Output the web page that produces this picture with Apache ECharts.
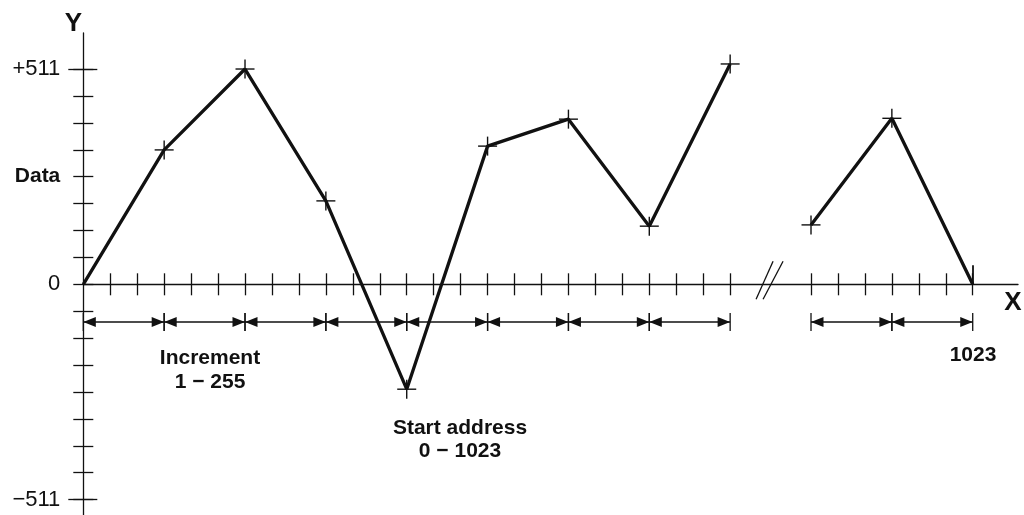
<!DOCTYPE html>
<html>
<head>
<meta charset="utf-8">
<script src="https://cdn.jsdelivr.net/npm/echarts@6/dist/echarts.min.js"></script>
<style>
html,body{margin:0;padding:0;background:#fff;}
#chart{width:1024px;height:515px;}
</style>
</head>
<body>
<div id="chart"></div>
<script>
// ---- data ----
const xSteps1 = [0, 3, 6, 9, 12, 15, 18, 21, 24];
const values1 = [0, 319, 511, 198, -249, 328, 392, 138, 523];
const xSteps2 = [27, 30, 33];
const values2 = [141, 394, 0];
const yLabelValues = [511, 255.5, 0, -511];
const yTickLabels = ['+511', 'Data', '0', '\u2212511'];
const xMinorTicks = [1,2,3,4,5,6,7,8,9,10,11,12,13,14,15,16,17,18,19,20,21,22,23,24,27,28,29,30,31,32,33];
const yStep = 63.875;
const yTicks = [-8,-7,-6,-5,-4,-3,-2,-1,0,1,2,3,4,5,6,7,8].map(k => k * yStep);
const annotations = [
  { text: 'Increment', x: 210, y: 358 },
  { text: '1 \u2212 255', x: 210, y: 382 },
  { text: 'Start address', x: 460, y: 428 },
  { text: '0 \u2212 1023', x: 460, y: 451 },
  { text: '1023', x: 973, y: 355 }
];

// ---- layout / style constants ----
const FONT = '"Liberation Sans", Arial, Helvetica, sans-serif';
const INK = '#111';
const dimRowValue = -89.5;
const breakAt = 25.5;

const chart = echarts.init(document.getElementById('chart'), null, { renderer: 'canvas' });

const seg1 = xSteps1.map((x, i) => [x, values1[i]]);
const seg2 = xSteps2.map((x, i) => [x, values2[i]]);
const crossPts = seg1.slice(1).concat(seg2.slice(0, seg2.length - 1));
const dimSegs = [];
for (let i = 0; i < xSteps1.length - 1; i++) dimSegs.push([xSteps1[i], xSteps1[i + 1]]);
for (let i = 0; i < xSteps2.length - 1; i++) dimSegs.push([xSteps2[i], xSteps2[i + 1]]);

function xAx(extra) {
  return Object.assign({
    type: 'value', min: 0, max: 34.68, position: 'bottom',
    axisLine: { show: false, onZero: true },
    axisLabel: { show: false },
    splitLine: { show: false },
    axisTick: { show: false }
  }, extra);
}
function yAx(extra) {
  return Object.assign({
    type: 'value', min: -547.6, max: 596.5, position: 'left',
    axisLine: { show: false, onZero: true },
    axisLabel: { show: false },
    splitLine: { show: false },
    axisTick: { show: false }
  }, extra);
}
const tickStyle = { color: INK, width: 1.3 };

const option = {
  backgroundColor: '#fff',
  animation: false,
  grid: { left: 83.3, right: 6, top: 33, bottom: 0, containLabel: false, outerBoundsMode: 'none' },
  xAxis: [
    xAx({ axisLine: { show: true, onZero: true, lineStyle: { color: INK, width: 1.3 } },
          axisTick: { show: true, inside: false, length: 11, customValues: xMinorTicks, lineStyle: tickStyle } }),
    xAx({ axisTick: { show: true, inside: true, length: 11, customValues: xMinorTicks, lineStyle: tickStyle } }),
    xAx({ axisTick: { show: true, inside: true, length: 19, customValues: [33], lineStyle: { color: INK, width: 1.8 } } })
  ],
  yAxis: [
    yAx({ axisLine: { show: true, onZero: true, lineStyle: { color: INK, width: 1.3 } },
          axisTick: { show: true, inside: false, length: 10, customValues: yTicks, lineStyle: tickStyle },
          axisLabel: {
            show: true, margin: 23, customValues: yLabelValues, color: INK,
            fontSize: 22, fontFamily: FONT,
            formatter: function (v) {
              const i = yLabelValues.findIndex(u => Math.abs(u - v) < 0.01);
              const t = i >= 0 ? yTickLabels[i] : '';
              return t === 'Data' ? '{b|Data}' : t;
            },
            rich: { b: { fontWeight: 'bold', fontSize: 21, fontFamily: FONT, color: INK } }
          } }),
    yAx({ axisTick: { show: true, inside: true, length: 10, customValues: yTicks, lineStyle: tickStyle } }),
    yAx({ axisTick: { show: true, inside: false, length: 15, customValues: [511, -511], lineStyle: tickStyle } }),
    yAx({ axisTick: { show: true, inside: true, length: 14, customValues: [511, -511], lineStyle: tickStyle } })
  ],
  series: [
    { type: 'line', data: seg1, symbol: 'none', lineStyle: { color: INK, width: 3.3 }, z: 5, clip: false },
    { type: 'line', data: seg2, symbol: 'none', lineStyle: { color: INK, width: 3.3 }, z: 5, clip: false },
    {
      type: 'custom', data: crossPts, z: 6, clip: false,
      encode: { x: 0, y: 1 },
      renderItem: function (params, api) {
        const p = api.coord([api.value(0), api.value(1)]);
        const s = { stroke: INK, lineWidth: 1.4 };
        return { type: 'group', children: [
          { type: 'line', shape: { x1: p[0] - 9.5, y1: p[1], x2: p[0] + 9.5, y2: p[1] }, style: s },
          { type: 'line', shape: { x1: p[0], y1: p[1] - 9.5, x2: p[0], y2: p[1] + 9.5 }, style: s }
        ] };
      }
    },
    {
      type: 'custom', data: dimSegs, z: 4, clip: false,
      encode: { x: [0, 1] },
      renderItem: function (params, api) {
        const a = api.coord([api.value(0), dimRowValue]);
        const b = api.coord([api.value(1), dimRowValue]);
        const s = { stroke: INK, lineWidth: 1.3 };
        const L = 12.5, W = 5, H = 9;
        return { type: 'group', children: [
          { type: 'line', shape: { x1: a[0], y1: a[1], x2: b[0], y2: b[1] }, style: s },
          { type: 'polygon', shape: { points: [[a[0], a[1]], [a[0] + L, a[1] - W], [a[0] + L, a[1] + W]] }, style: { fill: INK } },
          { type: 'polygon', shape: { points: [[b[0], b[1]], [b[0] - L, b[1] - W], [b[0] - L, b[1] + W]] }, style: { fill: INK } },
          { type: 'line', shape: { x1: a[0], y1: a[1] - H, x2: a[0], y2: a[1] + H }, style: s },
          { type: 'line', shape: { x1: b[0], y1: b[1] - H, x2: b[0], y2: b[1] + H }, style: s }
        ] };
      }
    },
    {
      type: 'custom', data: [[breakAt, 0]], z: 4, clip: false,
      encode: { x: 0, y: 1 },
      renderItem: function (params, api) {
        const c = api.coord([api.value(0), api.value(1)]);
        const s = { stroke: INK, lineWidth: 1.3 };
        return { type: 'group', children: [
          { type: 'line', shape: { x1: c[0] - 14.5, y1: c[1] + 15, x2: c[0] + 2.5, y2: c[1] - 23 }, style: s },
          { type: 'line', shape: { x1: c[0] - 7.5, y1: c[1] + 15, x2: c[0] + 12.5, y2: c[1] - 23 }, style: s }
        ] };
      }
    }
  ],
  graphic: annotations.map(a => ({
    type: 'text', x: a.x, y: a.y, z: 10,
    style: { text: a.text, fill: INK, font: 'bold 21px ' + FONT, align: 'center', verticalAlign: 'middle', textAlign: 'center', textVerticalAlign: 'middle' }
  })).concat([
    { type: 'text', x: 73.5, y: 24, z: 10,
      style: { text: 'Y', fill: INK, font: 'bold 26px ' + FONT, align: 'center', verticalAlign: 'middle', textAlign: 'center', textVerticalAlign: 'middle' } },
    { type: 'text', x: 1013, y: 303, z: 10,
      style: { text: 'X', fill: INK, font: 'bold 26px ' + FONT, align: 'center', verticalAlign: 'middle', textAlign: 'center', textVerticalAlign: 'middle' } }
  ])
};
chart.setOption(option);
</script>
</body>
</html>
